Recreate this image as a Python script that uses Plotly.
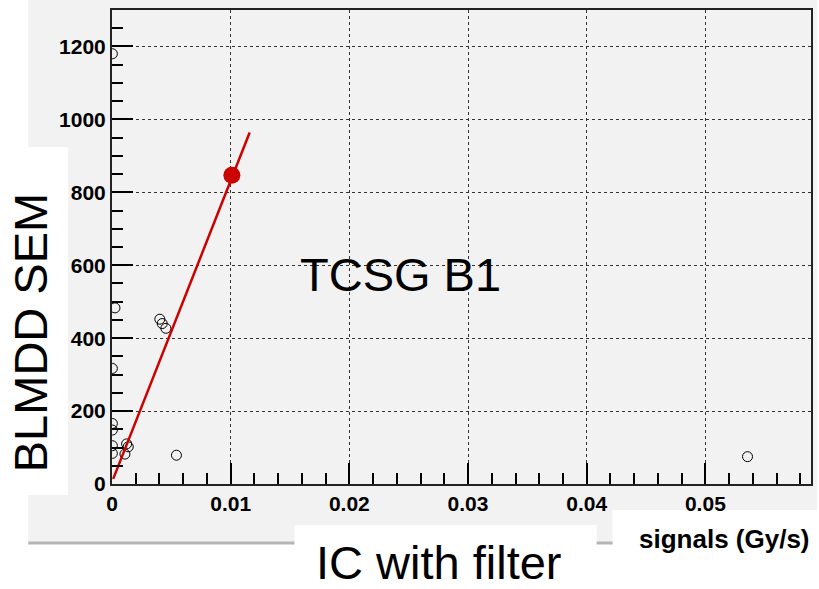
import plotly.graph_objects as go

# ---- data ----
ic_signal = [0.00003, 0.00003, 0.00025, 0.00003, 0.00003, 0.00003, 0.00003,
             0.00109, 0.00123, 0.00137, 0.00403, 0.00423, 0.00454, 0.00543, 0.05355]
blm_sem = [1180, 317, 483, 166, 148, 105, 84,
           82, 110, 102, 452, 440, 427, 79, 75]
fit_x = [0.0001, 0.0116]
fit_y = [14, 964]
ref_x = [0.0101]
ref_y = [847]
x_ticks = [0, 0.01, 0.02, 0.03, 0.04, 0.05]
x_tick_labels = ["0", "0.01", "0.02", "0.03", "0.04", "0.05"]
y_ticks = [0, 200, 400, 600, 800, 1000, 1200]
y_tick_labels = ["0", "200", "400", "600", "800", "1000", "1200"]

W, H = 819, 589
L, R, T, B = 112, 813, 10, 484  # plot frame in pixels


def px(xp):
    return (xp - L) / (R - L)


def py(yp):
    return (B - yp) / (B - T)


FONT = "Liberation Sans, Arial, sans-serif"
GRAY = "#f2f2f2"

fig = go.Figure()
fig.add_trace(go.Scatter(
    x=ic_signal, y=blm_sem, mode="markers",
    marker=dict(symbol="circle-open", size=10, color="black", line=dict(width=1)),
    showlegend=False, hoverinfo="x+y"))
fig.add_trace(go.Scatter(
    x=fit_x, y=fit_y, mode="lines",
    line=dict(color="#cc0000", width=2.5), showlegend=False))
fig.add_trace(go.Scatter(
    x=ref_x, y=ref_y, mode="markers",
    marker=dict(symbol="circle", size=17, color="#cc0000"), showlegend=False))

shapes = [
    # ROOT canvas grey background
    dict(type="rect", xref="paper", yref="paper", x0=px(28), x1=px(819), y0=py(0), y1=py(542),
         fillcolor=GRAY, line=dict(width=0), layer="below"),
    # canvas bottom edge line
    dict(type="line", xref="paper", yref="paper", x0=px(28), x1=px(819), y0=py(543), y1=py(543),
         line=dict(color="#b4b4b4", width=3), layer="below"),
    # white text boxes pasted over the canvas
    dict(type="rect", xref="paper", yref="paper", x0=px(0), x1=px(68), y0=py(147), y1=py(495),
         fillcolor="white", line=dict(width=0), layer="below"),
    dict(type="rect", xref="paper", yref="paper", x0=px(295), x1=px(598), y0=py(525), y1=py(589),
         fillcolor="white", line=dict(width=0), layer="below"),
    dict(type="rect", xref="paper", yref="paper", x0=px(614), x1=px(819), y0=py(510), y1=py(589),
         fillcolor="white", line=dict(width=0), layer="below"),
]

annotations = [
    dict(text="TCSG B1", xref="paper", yref="paper", x=px(401), y=py(274),
         showarrow=False, font=dict(family=FONT, size=47, color="black"),
         xanchor="center", yanchor="middle"),
    dict(text="BLMDD SEM", xref="paper", yref="paper", x=px(30), y=py(333),
         showarrow=False, textangle=-90, font=dict(family=FONT, size=47, color="black"),
         xanchor="center", yanchor="middle"),
    dict(text="IC with filter", xref="paper", yref="paper", x=px(440), y=py(562),
         showarrow=False, font=dict(family=FONT, size=47, color="black"),
         xanchor="center", yanchor="middle"),
    dict(text="<b>signals (Gy/s)</b>", xref="paper", yref="paper", x=px(726), y=py(539),
         showarrow=False, font=dict(family=FONT, size=26, color="black"),
         xanchor="center", yanchor="middle"),
]

fig.update_layout(
    width=W, height=H,
    margin=dict(l=L, r=W - R, t=T, b=H - B, pad=0),
    paper_bgcolor="white", plot_bgcolor=GRAY,
    shapes=shapes, annotations=annotations,
    xaxis=dict(range=[0, 0.0589], tickvals=x_ticks, ticktext=x_tick_labels,
               ticks="inside", ticklen=21, tickwidth=1.5, tickcolor="black",
               minor=dict(dtick=0.002, tick0=0, ticks="inside", ticklen=11,
                          tickwidth=1.5, tickcolor="black", showgrid=False),
               showgrid=True, gridcolor="#333333", griddash="dot", gridwidth=1,
               showline=True, linecolor="#222222", linewidth=2, mirror=True,
               zeroline=False,
               tickfont=dict(family=FONT, size=21, color="black", weight="bold")),
    yaxis=dict(range=[0, 1300], tickvals=y_ticks, ticktext=y_tick_labels,
               ticks="inside", ticklen=21, tickwidth=1.5, tickcolor="black",
               minor=dict(dtick=50, tick0=0, ticks="inside", ticklen=11,
                          tickwidth=1.5, tickcolor="black", showgrid=False),
               showgrid=True, gridcolor="#333333", griddash="dot", gridwidth=1,
               showline=True, linecolor="#222222", linewidth=2, mirror=True,
               zeroline=False,
               tickfont=dict(family=FONT, size=21, color="black", weight="bold")),
)

fig.write_html("out.html")
